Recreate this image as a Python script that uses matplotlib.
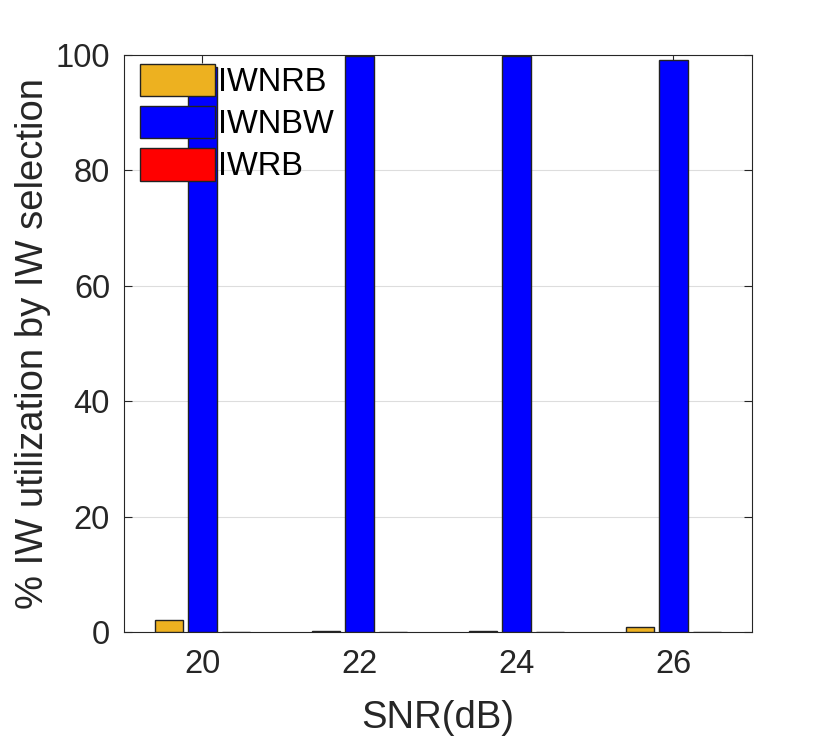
import numpy as np
import matplotlib
matplotlib.use('Agg')
import matplotlib.pyplot as plt

plt.rcParams['font.family'] = ['Liberation Sans', 'DejaVu Sans']

# data
snr = [20, 22, 24, 26]
iwnrb = [2.0, 0.2, 0.2, 0.9]
iwnbw = [98.0, 99.8, 99.8, 99.1]
iwrb = [0.0, 0.0, 0.0, 0.0]
labels = ['IWNRB', 'IWNBW', 'IWRB']

fig = plt.figure(figsize=(8.3, 7.39), dpi=100)
ax = fig.add_axes([0.1494, 0.1448, 0.906 - 0.1494, 0.9256 - 0.1448])

x = np.array(snr, dtype=float)
w = 0.36
off = 0.43
ax.bar(x - off, iwnrb, w, color='#EDB120', edgecolor='#222222', linewidth=1, label=labels[0], zorder=3)
ax.bar(x, iwnbw, w, color='#0000FF', edgecolor='#222222', linewidth=1, label=labels[1], zorder=3)
ax.bar(x + off, iwrb, w, color='#FF0000', edgecolor='#222222', linewidth=1, label=labels[2], zorder=3)

ax.set_xlim(19, 27)
ax.set_ylim(0, 100)
ax.set_xticks(snr)
ax.set_yticks([0, 20, 40, 60, 80, 100])
ax.yaxis.grid(True, color='#dddddd', linewidth=0.8, zorder=0)
ax.set_axisbelow(True)
ax.tick_params(direction='in', length=6, labelsize=23.5, colors='#262626', top=True, right=True)
ax.tick_params(axis='x', pad=12)
ax.tick_params(axis='y', pad=10)
for s in ax.spines.values():
    s.set_color('#262626')
    s.set_linewidth(0.8)

ax.set_xlabel('SNR(dB)', fontsize=27.5, color='#262626', labelpad=15)
ax.set_ylabel('% IW utilization by IW selection', fontsize=27.5, color='#262626', labelpad=3)

leg = ax.legend(loc='upper left', bbox_to_anchor=(16 / 628, 1 - 9 / 577), frameon=False,
                fontsize=23.5, handlelength=2.3, handleheight=1.15, labelspacing=0.24,
                handletextpad=0.1, borderaxespad=0, borderpad=0)
leg.set_zorder(5)

fig.savefig('out.png', dpi=100)
